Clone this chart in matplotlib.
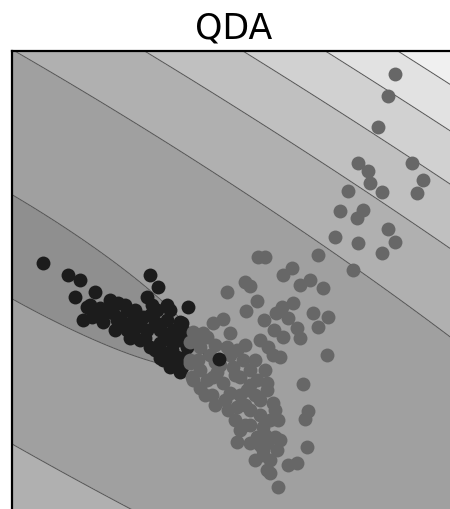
import numpy as np
import matplotlib.pyplot as plt

# points (data units)
black_x = [3.1, 5.6, 6.8, 8.3, 6.3, 7.5, 7.1, 13.8, 14.6, 17.6, 13.5, 15.5, 10.6, 9.5, 8.8,
           11.5, 10.5, 12.1, 13.1, 14.5, 15.5, 16.8, 16.1, 14.8, 13.5, 12.1, 11.5, 12.8, 13.8,
           14.8, 15.5, 16.1, 16.8, 17.5, 15.1, 15.8, 16.5, 17.0, 10.1, 9.1, 8.0, 17.0, 11.0,
           12.6, 14.3,
           9.8, 11.3, 12.3, 13.8, 10.8, 12.8, 14.8, 11.8, 13.3, 14.3, 15.3, 16.0, 16.6, 14.8,
           16.3, 17.3, 7.8, 8.8, 10.3, 15.8, 14.0, 17.3, 16.8]
black_y = [25.7, 24.5, 24.0, 22.8, 22.3, 21.3, 20.0, 24.5, 23.3, 21.3, 22.3, 21.5, 21.7, 20.8, 20.3,
           21.0, 20.0, 20.0, 20.3, 21.0, 20.0, 19.8, 19.0, 19.0, 19.0, 18.7, 19.0, 18.0, 17.3,
           17.7, 16.7, 17.7, 18.0, 17.3, 16.0, 15.3, 16.3, 15.3, 20.7, 19.8, 20.3, 19.7, 19.5,
           19.4, 19.8,
           22.0, 21.5, 21.0, 20.5, 20.2, 19.8, 19.5, 18.2, 18.2, 17.0, 18.2, 17.0, 19.0, 16.2,
           15.8, 16.3, 21.5, 21.2, 19.0, 21.0, 21.5, 18.8, 14.8]
black_top_x = [20.7]
black_top_y = [16.1]

gray_x = [38.3, 37.6, 36.6, 34.6, 35.6, 40.0, 35.8, 37.0, 41.1, 40.5, 33.6, 35.1, 34.5, 32.8,
          37.6, 38.3, 37.0, 32.3, 34.6, 30.6, 34.1,
          24.6, 25.3, 28.0, 27.1, 29.8, 28.8, 31.1, 23.3, 23.8, 21.5, 24.5, 23.4, 27.0, 28.1,
          30.1, 31.6, 30.6, 25.2, 26.4, 27.6, 26.2, 28.5, 28.8, 27.1, 24.8, 25.6, 26.1, 26.8,
          20.1, 21.1, 18.1, 19.1, 21.8, 17.8, 31.5, 29.1, 29.6, 29.3, 29.5, 28.5, 27.6, 26.6,
          25.5, 24.3, 22.5, 25.1, 26.3, 26.6, 26.1, 25.5,
          18.8, 19.5, 21.5, 22.5, 23.1, 22.1, 20.5, 18.8, 17.8, 18.1, 19.5, 21.1, 22.8, 23.8,
          24.5, 23.5, 21.8, 22.5, 23.8, 24.8, 25.5, 25.8, 25.1, 24.5, 23.8, 25.5, 26.5, 25.1,
          25.8, 18.8, 18.0, 17.8, 20.1, 20.0, 21.3, 20.3, 22.3, 23.3,
          18.8, 20.3, 21.8, 19.8, 20.8, 22.3, 23.8, 22.8, 24.3, 23.3, 24.8, 23.8, 25.3, 24.8,
          25.8, 26.8, 26.3, 25.3, 24.3, 23.3, 19.3, 20.3, 21.6, 22.8, 18.6]
gray_y = [44.6, 42.4, 39.3, 35.7, 34.9, 35.7, 33.7, 32.8, 34.0, 32.7, 32.9, 31.0, 30.2, 30.9,
          29.1, 27.8, 26.7, 28.3, 27.7, 26.5, 25.0,
          26.3, 26.3, 25.2, 24.5, 24.0, 23.5, 23.2, 23.8, 23.4, 22.8, 21.9, 20.9, 21.3, 21.7,
          20.7, 20.3, 19.3, 20.0, 20.7, 20.2, 19.0, 19.2, 18.2, 18.3, 18.0, 17.3, 16.5, 16.3,
          19.7, 20.1, 18.8, 18.7, 18.7, 17.8, 16.5, 13.6, 10.9, 10.1, 7.3, 5.7, 5.5, 3.3,
          5.0, 6.0, 7.8, 7.0, 8.3, 10.0, 11.7, 13.7,
          17.3, 18.3, 17.3, 17.0, 16.0, 15.3, 14.8, 15.0, 16.0, 14.0, 14.0, 13.7, 14.3, 15.0,
          14.0, 13.0, 12.7, 11.3, 11.0, 12.0, 13.0, 10.0, 9.3, 8.3, 7.7, 7.7, 7.0, 6.5,
          4.7, 13.2, 14.3, 15.7, 14.3, 12.5, 12.0, 15.8, 10.0, 9.5,
          18.0, 17.5, 16.5, 16.5, 15.5, 14.5, 13.5, 12.5, 12.5, 11.5, 10.5, 9.5, 8.5, 7.5,
          6.0, 8.0, 11.0, 15.0, 16.0, 17.5, 12.5, 11.5, 11.0, 9.0, 16.0]

# background: quadratic score of the QDA model (ellipse centre, half axes, angle)
centre = [-1.35, 28.1]
half_axes = [23.8, 4.5]
angle = 31.0
levels = [1.0, 14.3, 27.6, 40.9, 54.2, 67.5]
fills = ['#8f8f8f', '#a0a0a0', '#b0b0b0', '#c0c0c0', '#d1d1d1', '#e2e2e2', '#f0f0f0']

xx, yy = np.meshgrid(np.linspace(-1, 46, 500), np.linspace(-1, 48, 500))
t = np.deg2rad(angle)
dx = xx - centre[0]
dy = yy - centre[1]
w = dx * np.cos(t) - dy * np.sin(t)
v = dx * np.sin(t) + dy * np.cos(t)
zz = (w / half_axes[0])**2 + (v / half_axes[1])**2

fig = plt.figure(figsize=(4.5, 5.09), dpi=100)
ax = fig.add_axes([12 / 450, 1 - 520 / 509, 443 / 450, 469 / 509])

ax.contourf(xx, yy, zz, levels=[zz.min()] + levels + [zz.max()], colors=fills)
ax.contour(xx, yy, zz, levels=levels, colors='#555555', linewidths=0.7)

ax.scatter(black_x, black_y, s=100, color='#1c1c1c', linewidths=0, zorder=3)
ax.scatter(gray_x, gray_y, s=100, color='#676767', linewidths=0, zorder=4)
ax.scatter(black_top_x, black_top_y, s=100, color='#1c1c1c', linewidths=0, zorder=5)

ax.set_xlim(0, 44.3)
ax.set_ylim(0, 46.9)
ax.set_xticks([])
ax.set_yticks([])
for sp in ax.spines.values():
    sp.set_linewidth(1.6)
ax.set_title('QDA', fontsize=25, pad=9)

fig.savefig('out.png', dpi=100)
